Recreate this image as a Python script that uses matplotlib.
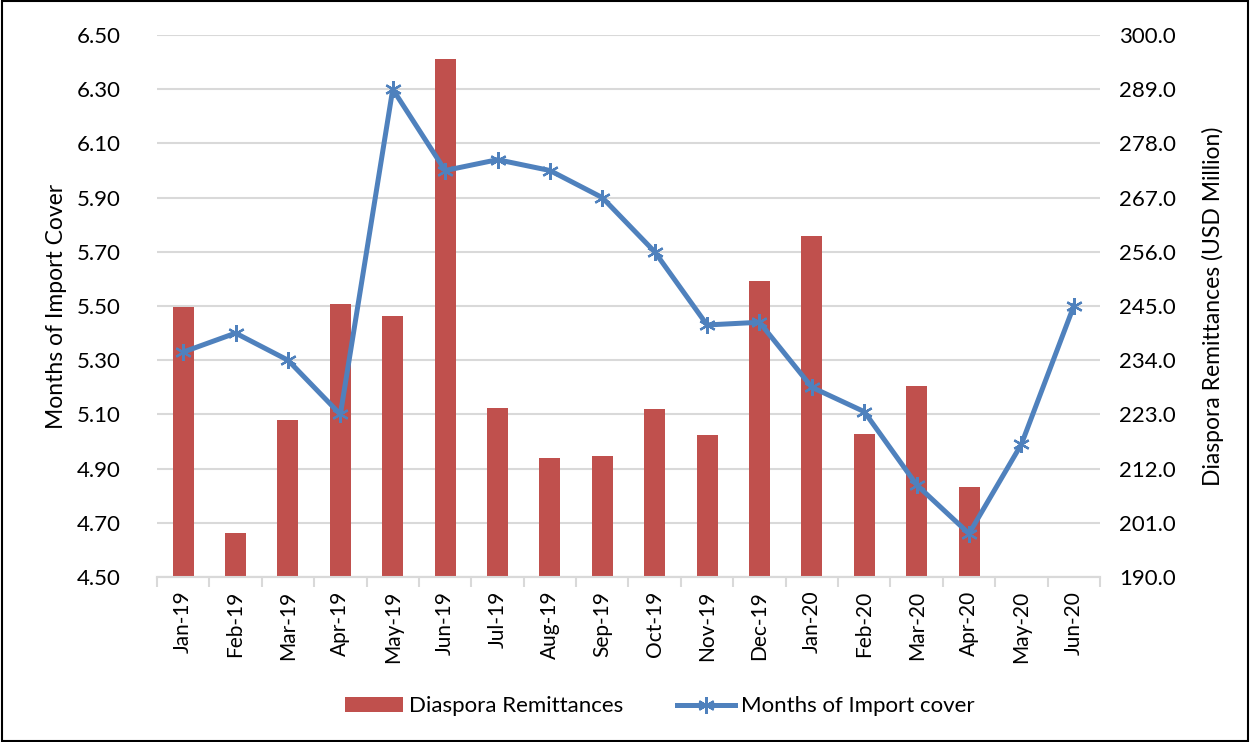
import matplotlib.pyplot as plt
import numpy as np

plt.rcParams['font.family'] = ['Lato', 'DejaVu Sans']

months = ["Jan-19", "Feb-19", "Mar-19", "Apr-19", "May-19", "Jun-19", "Jul-19", "Aug-19",
          "Sep-19", "Oct-19", "Nov-19", "Dec-19", "Jan-20", "Feb-20", "Mar-20", "Apr-20",
          "May-20", "Jun-20"]
# Diaspora remittances, USD million (no data for May/Jun 2020)
remittances = [244.8, 198.9, 221.9, 245.4, 243.0, 295.1, 224.3, 214.1, 214.6, 224.1,
               218.8, 250.1, 259.2, 219.0, 228.8, 208.3, np.nan, np.nan]
# Months of import cover
import_cover = [5.33, 5.40, 5.30, 5.10, 6.30, 6.00, 6.04, 6.00, 5.90, 5.70,
                5.43, 5.44, 5.20, 5.11, 4.84, 4.66, 4.99, 5.50]

left_ticks = np.arange(4.5, 6.51, 0.2)
right_ticks = np.arange(190, 300.1, 11)

fig = plt.figure(figsize=(12.5, 7.42), dpi=100)
fig.patches.append(plt.Rectangle((0.0015, 0.002), 0.997, 0.996, transform=fig.transFigure,
                                 fill=False, edgecolor='black', linewidth=1.5))

ax = fig.add_axes([0.1256, 0.2224, 0.7544, 0.7304])
ax2 = ax.twinx()
x = np.arange(len(months))

# bars on the right-hand axis, behind the line
bars = ax2.bar(x, remittances, width=0.4, color='#C0504D', zorder=3,
               label='Diaspora Remittances')
ax2.set_ylim(190, 300)
ax2.set_yticks(right_ticks)
ax2.set_yticklabels([f"{t:.1f}" for t in right_ticks])
ax2.grid(axis='y', color='#d9d9d9', linewidth=1.5, zorder=0)
ax2.set_ylabel("Diaspora Remittances (USD Million)", fontsize=16.5, labelpad=18)

ax.set_zorder(ax2.get_zorder() + 1)
ax.patch.set_visible(False)
line, = ax.plot(x, import_cover, color='#4F81BD', linewidth=3.6,
                marker=(6, 2, 0), markersize=12, markeredgewidth=1.6,
                label='Months of Import cover', zorder=4)
ax.set_ylim(4.5, 6.5)
ax.set_yticks(left_ticks)
ax.set_yticklabels([f"{t:.2f}" for t in left_ticks])
ax.set_ylabel("Months of Import Cover", fontsize=16.5, labelpad=7)

ax.set_xlim(-0.5, len(months) - 0.5)
ax.set_xticks(x)
ax.set_xticklabels(months, rotation=90)
ax.set_xticks(np.arange(-0.5, len(months), 1), minor=True)
ax.tick_params(axis='x', which='major', length=0, pad=10, labelsize=15)
ax.tick_params(axis='x', which='minor', length=7, color='#d9d9d9', width=1.5)
ax.tick_params(axis='y', length=0, labelsize=16, pad=26)
ax2.tick_params(axis='y', length=0, labelsize=16, pad=14)

for a in (ax, ax2):
    for s in ('top', 'left', 'right'):
        a.spines[s].set_visible(False)
    a.spines['bottom'].set_color('#d9d9d9')
    a.spines['bottom'].set_linewidth(1.5)

fig.legend([bars, line], ['Diaspora Remittances', 'Months of Import cover'],
           loc='center', bbox_to_anchor=(0.528, 0.048), ncol=2, frameon=False,
           fontsize=16, handlelength=2.6, columnspacing=2.4, handletextpad=0.3)

fig.savefig('out.png', dpi=100)
